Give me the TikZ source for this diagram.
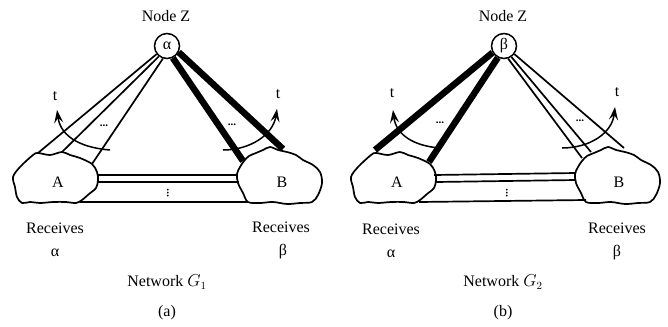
\documentclass[tikz,border=0pt]{standalone}
\usepackage{fontspec}
\setmainfont{Liberation Serif}
\usetikzlibrary{arrows.meta}
\begin{document}
\begin{tikzpicture}[x=1pt,y=-1pt,
  lbl/.style={font=\fontsize{16}{19}\selectfont, inner sep=0pt},
  znode/.style={draw, circle, line width=1.5pt, minimum size=25pt, inner sep=0pt,
                font=\fontsize{16}{19}\selectfont},
  thin/.style={line width=1.7pt},
  thick/.style={line width=6.5pt},
  cloud/.style={line width=1.7pt, fill=white},
  sweep/.style={line width=1.5pt, -{Stealth[length=13pt,width=9pt,inset=5pt]}},
  dotsym/.style={font=\fontsize{11}{11}\selectfont\bfseries, inner sep=0pt}]
\useasboundingbox (0,0) rectangle (668,326);

% ---------- outline of region A and region B (shared by both networks) ----------
\newcommand{\regionA}{plot[smooth cycle, tension=0.55] coordinates {
  (13,177) (20,167) (33,155) (38,153) (50,155) (62,152) (70,155) (80,158)
  (92,164) (97,172) (98,180) (96,188) (89,194) (82,200) (76,203) (66,202)
  (53,202) (40,203) (30,202) (22,203) (17,197) (15,187)}}
\newcommand{\regionB}{plot[smooth cycle, tension=0.55] coordinates {
  (240,167) (237,174) (238,183) (243,193) (248,202) (260,203) (273,202)
  (287,204) (300,203) (312,202) (318,195) (322,183) (320,172) (313,165)
  (303,160) (296,155) (287,152) (278,150) (270,147) (263,150) (256,153)
  (249,156) (244,161)}}

% ================= Network G1 =================
\draw[cloud] \regionA;
\draw[cloud] \regionB;
\node[lbl] (aA) at (58,182) {A};
\node[lbl] (aB) at (282,182) {B};

\node[znode] (aZ) at (167,46) {α};
\node[lbl] (aZlbl) at (166,16) {Node Z};

% links towards A
\coordinate (aA1) at (38,153);
\coordinate (aA2) at (62,152);
\coordinate (aA3) at (92,164);
\draw[thin] (aZ.218) -- (aA1);
\draw[thin] (aZ.232) -- (aA2);
\draw[thin] (aZ.252) -- (aA3);
% links towards B
\coordinate (aB1) at (243,161);
\coordinate (aB2) at (283,149);
\draw[thick] (aZ.-64) -- (aB1);
\draw[thick] (aZ.-28) -- (aB2);

% A -- B connections
\coordinate (aAr1) at (97,175); \coordinate (aBl1) at (238,175);
\coordinate (aAr2) at (98,182); \coordinate (aBl2) at (239,182);
\coordinate (aAr3) at (80,202); \coordinate (aBl3) at (248,202);
\draw[thin] (aAr1) -- (aBl1);
\draw[thin] (aAr2) -- (aBl2);
\draw[thin] (aAr3) -- (aBl3);
\node[dotsym, rotate=90] (aVd) at (168,193) {...};

% time sweeps
\coordinate (aS1) at (110,150);
\coordinate (aT1) at (57,110);
\draw[sweep] (aS1) .. controls (85,148) and (61,139) .. (aT1);
\coordinate (aS2) at (223,150);
\coordinate (aT2) at (277,109);
\draw[sweep] (aS2) .. controls (250,150) and (273,135) .. (aT2);
\node[lbl] (at1) at (55,96) {t};
\node[lbl] (at2) at (278,94) {t};
\node[dotsym] (ad1) at (104,126) {...};
\node[dotsym] (ad2) at (232,125) {...};

\node[lbl] (aRA) at (55,228) {Receives};
\node[lbl] (aRAs) at (55,253) {α};
\node[lbl] (aRB) at (281,227) {Receives};
\node[lbl] (aRBs) at (283,252) {β};
\node[lbl] (aNet) at (167,282) {Network $G_1$};
\node[lbl] (aCap) at (167,313) {(a)};

% ================= Network G2 =================
\begin{scope}[xshift=338pt]
  \draw[cloud] \regionA;
  \draw[cloud] \regionB;
\end{scope}
\node[lbl] (bA) at (397,182) {A};
\node[lbl] (bB) at (619,182) {B};

\node[znode] (bZ) at (504,46) {β};
\node[lbl] (bZlbl) at (503,16) {Node Z};

% links towards A
\coordinate (bA1) at (375,150);
\coordinate (bA2) at (429,162);
\draw[thick] (bZ.210) -- (bA1);
\draw[thick] (bZ.242) -- (bA2);
% links towards B
\coordinate (bB1) at (582,158);
\coordinate (bB2) at (591,152);
\coordinate (bB3) at (624,148);
\draw[thin] (bZ.-72) -- (bB1);
\draw[thin] (bZ.-56) -- (bB2);
\draw[thin] (bZ.-38) -- (bB3);

% A -- B connections
\coordinate (bAr1) at (434,175); \coordinate (bBl1) at (576,173);
\coordinate (bAr2) at (436,182); \coordinate (bBl2) at (576,180);
\coordinate (bAr3) at (419,202); \coordinate (bBl3) at (586,200);
\draw[thin] (bAr1) -- (bBl1);
\draw[thin] (bAr2) -- (bBl2);
\draw[thin] (bAr3) -- (bBl3);
\node[dotsym, rotate=90] (bVd) at (507,193) {...};

% time sweeps
\coordinate (bS1) at (440,148);
\coordinate (bT1) at (393,110);
\draw[sweep] (bS1) .. controls (414,146) and (396,135) .. (bT1);
\coordinate (bS2) at (562,148);
\coordinate (bT2) at (615,107);
\draw[sweep] (bS2) .. controls (590,148) and (612,133) .. (bT2);
\node[lbl] (bt1) at (392,93) {t};
\node[lbl] (bt2) at (617,92) {t};
\node[dotsym] (bd1) at (440,123) {...};
\node[dotsym] (bd2) at (580,121) {...};

\node[lbl] (bRA) at (391,229) {Receives};
\node[lbl] (bRAs) at (391,254) {α};
\node[lbl] (bRB) at (617,228) {Receives};
\node[lbl] (bRBs) at (617,253) {β};
\node[lbl] (bNet) at (503,282) {Network $G_2$};
\node[lbl] (bCap) at (503,313) {(b)};
\end{tikzpicture}
\end{document}
